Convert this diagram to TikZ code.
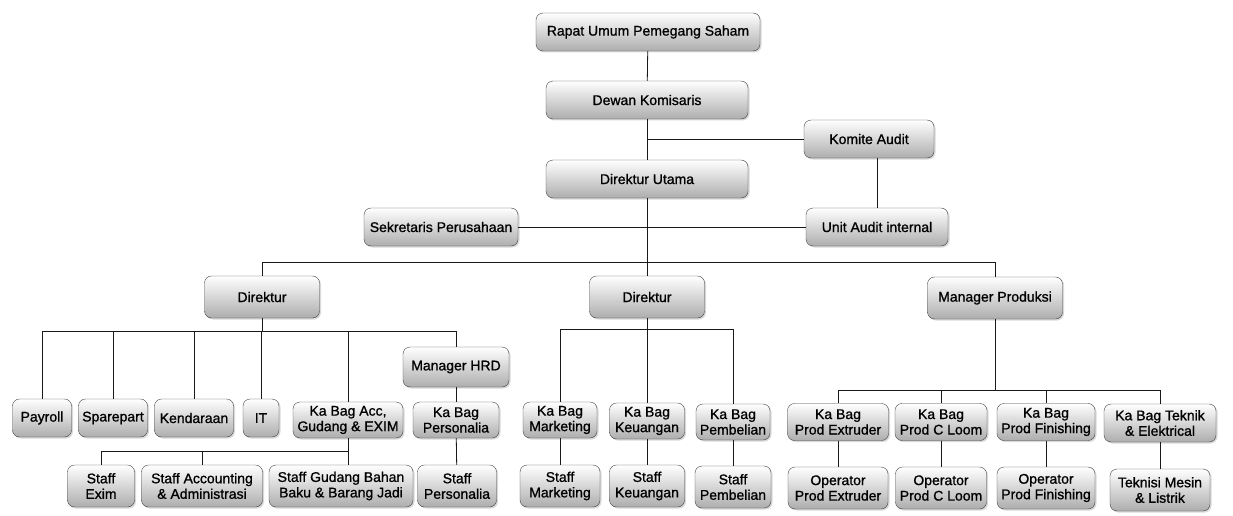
\documentclass[tikz,border=0pt]{standalone}
\usepackage{fontspec}
\setmainfont{Liberation Sans}[FakeBold=1]
\usetikzlibrary{shadows}

\begin{document}
\begin{tikzpicture}[
    x=1pt, y=-1pt,
    unit/.style={draw=black!75, rounded corners=7pt, top color=white, bottom color=black!32,
        drop shadow={shadow xshift=1.5pt, shadow yshift=-1.5pt, opacity=0.3},
        align=center, inner xsep=3pt, inner ysep=2pt, minimum height=38pt,
        font=\fontsize{14}{15.5}\selectfont},
    tall/.style={unit, minimum height=42pt},
    link/.style={draw=black!90, line width=0.8pt}
]
\useasboundingbox (0,0) rectangle (1233,516);

% Top management
\node[unit, minimum width=224pt] (rups) at (648,32) {Rapat Umum Pemegang Saham};
\node[unit, minimum width=202pt] (dewan) at (647,100) {Dewan Komisaris};
\node[unit, minimum width=130pt] (komite) at (869,139) {Komite Audit};
\node[unit, minimum width=202pt] (dirut) at (647,179) {Direktur Utama};
\node[unit, minimum width=142pt] (unitaudit) at (877,227) {Unit Audit internal};
\node[unit, minimum width=154pt] (sekper) at (441,227) {Sekretaris Perusahaan};

% Directors
\node[unit, minimum width=115pt, minimum height=42pt] (dirkiri) at (262,297) {Direktur};
\node[unit, minimum width=115pt, minimum height=42pt] (dirtengah) at (647,297) {Direktur};
\node[unit, minimum width=135pt, minimum height=42pt] (mprod) at (995,298) {Manager Produksi};

% Left branch
\node[unit, minimum width=59pt] (payroll) at (42,418) {Payroll};
\node[unit, minimum width=69pt] (sparepart) at (113,418) {Sparepart};
\node[unit, minimum width=79pt] (kendaraan) at (194,418) {Kendaraan};
\node[unit, minimum width=36pt] (it) at (261,418) {IT};
\node[unit, minimum width=110pt, minimum height=36pt] (kbacc) at (348,420) {Ka Bag Acc,\\Gudang \& EXIM};
\node[unit, minimum width=106pt, minimum height=40pt] (hrd) at (456,367) {Manager HRD};
\node[unit, minimum width=86pt, minimum height=36pt] (kbpers) at (456,420) {Ka Bag\\Personalia};
\node[tall, minimum width=67pt] (sexim) at (101,486) {Staff\\Exim};
\node[tall, minimum width=121pt] (sacc) at (202,486) {Staff Accounting\\\& Administrasi};
\node[tall, minimum width=144pt] (sgudang) at (341,486) {Staff Gudang Bahan\\Baku \& Barang Jadi};
\node[tall, minimum width=79pt] (spers) at (457,486) {Staff\\Personalia};

% Middle branch
\node[unit, minimum width=74pt, minimum height=36pt] (kbmkt) at (560,420) {Ka Bag\\Marketing};
\node[unit, minimum width=75pt, minimum height=36pt] (kbkeu) at (647,421) {Ka Bag\\Keuangan};
\node[unit, minimum width=74pt, minimum height=36pt] (kbbeli) at (733,422) {Ka Bag\\Pembelian};
\node[tall, minimum width=80pt] (smkt) at (560,486) {Staff\\Marketing};
\node[tall, minimum width=75pt] (skeu) at (647,486) {Staff\\Keuangan};
\node[tall, minimum width=76pt] (sbeli) at (733,487) {Staff\\Pembelian};

% Right branch
\node[unit, minimum width=101pt, minimum height=37pt] (kbext) at (838,422) {Ka Bag\\Prod Extruder};
\node[unit, minimum width=92pt, minimum height=37pt] (kbloom) at (941,422) {Ka Bag\\Prod C Loom};
\node[unit, minimum width=98pt, minimum height=37pt] (kbfin) at (1046,422) {Ka Bag\\Prod Finishing};
\node[unit, minimum width=112pt, minimum height=38pt] (kbtek) at (1160,423) {Ka Bag Teknik\\\& Elektrical};
\node[tall, minimum width=100pt] (opext) at (838,488) {Operator\\Prod Extruder};
\node[tall, minimum width=91pt] (oploom) at (941,488) {Operator\\Prod C Loom};
\node[tall, minimum width=98pt] (opfin) at (1046,488) {Operator\\Prod Finishing};
\node[tall, minimum width=100pt] (teknisi) at (1160,490) {Teknisi Mesin\\\& Listrik};

% Bus points
\coordinate (bustop) at (647,262);
\coordinate (buskiri) at (262,331);
\coordinate (bustengah) at (647,329);
\coordinate (buskanan) at (995,390);
\coordinate (busacc) at (348,451);

% Connectors
\draw[link] (rups) -- (dewan);
\draw[link] (dewan) -- (dirut);
\draw[link] (komite) -- (komite -| dirut);
\draw[link] (unitaudit) -- (unitaudit |- komite.south);
\draw[link] (sekper) -- (unitaudit);
\draw[link] (dirut) -- (bustop);
\draw[link] (dirkiri) -- (dirkiri |- bustop) -- (mprod |- bustop) -- (mprod);
\draw[link] (bustop) -- (dirtengah);

\draw[link] (dirkiri) -- (buskiri);
\foreach \n in {payroll, sparepart, kendaraan, it, kbacc, hrd}
    \draw[link] (buskiri) -| (\n);
\draw[link] (hrd) -- (kbpers);
\draw[link] (kbpers) -- (spers);
\draw[link] (kbacc) -- (busacc);
\foreach \n in {sexim, sacc}
    \draw[link] (busacc) -| (\n);
\draw[link] (busacc) -- (busacc |- sgudang.north);

\draw[link] (dirtengah) -- (bustengah);
\foreach \n in {kbmkt, kbkeu, kbbeli}
    \draw[link] (bustengah) -| (\n);
\draw[link] (kbmkt) -- (smkt);
\draw[link] (kbkeu) -- (skeu);
\draw[link] (kbbeli) -- (sbeli);

\draw[link] (mprod) -- (buskanan);
\foreach \n in {kbext, kbloom, kbfin, kbtek}
    \draw[link] (buskanan) -| (\n);
\draw[link] (kbext) -- (opext);
\draw[link] (kbloom) -- (oploom);
\draw[link] (kbfin) -- (opfin);
\draw[link] (kbtek) -- (teknisi);

\end{tikzpicture}
\end{document}
